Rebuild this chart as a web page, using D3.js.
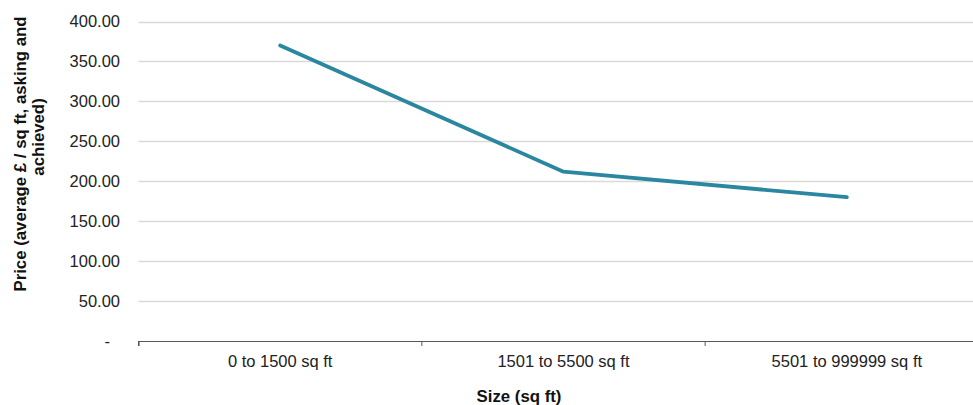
<!DOCTYPE html>
<html><head><meta charset="utf-8">
<script src="https://cdn.jsdelivr.net/npm/d3@7"></script>
<style>
html,body{margin:0;padding:0;background:#fff;}
svg{display:block;font-family:"Liberation Sans",Arial,sans-serif;}
</style></head>
<body>
<svg id="c" width="973" height="405"></svg>
<script>
const categories = ["0 to 1500 sq ft", "1501 to 5500 sq ft", "5501 to 999999 sq ft"];
const values = [370, 212, 180];
const yTicks = [0, 50, 100, 150, 200, 250, 300, 350, 400];
const yTitle = ["Price (average £ / sq ft, asking and", "achieved)"];
const xTitle = "Size (sq ft)";

(function () {
const svg = d3.select("#c");
const mLeft = 138.5, mRight = 988.5, mTop = 21.5, mBottom = 341;

const x = d3.scaleBand().domain(categories).range([mLeft, mRight]).padding(0);
const y = d3.scaleLinear().domain([0, 400]).range([mBottom, mTop]);

// gridlines
svg.append("g").selectAll("line").data(yTicks.filter(d => d > 0)).join("line")
  .attr("x1", mLeft).attr("x2", 973)
  .attr("y1", d => Math.round(y(d)) + 0.5).attr("y2", d => Math.round(y(d)) + 0.5)
  .attr("stroke", "#d9d9d9").attr("stroke-width", 1.3);

// y tick labels
svg.append("g").selectAll("text").data(yTicks).join("text")
  .attr("x", d => d === 0 ? 110 : 120).attr("y", d => y(d) + 5.8)
  .attr("text-anchor", "end").attr("font-size", 16.5).attr("fill", "#222")
  .text(d => d === 0 ? "-" : d3.format(".2f")(d));

// x axis
const xAxis = d3.axisBottom(x).tickSize(5).tickSizeOuter(5).tickFormat("");
const gx = svg.append("g").attr("transform", `translate(0,${mBottom})`).call(xAxis);
gx.select(".domain").attr("stroke", "#595959").attr("stroke-width", 1.2);
gx.selectAll(".tick").remove();
const bounds = categories.map(c => x(c)).concat([x(categories[categories.length-1]) + x.bandwidth()]);
gx.selectAll("line.b").data(bounds).join("line").attr("class", "b")
  .attr("x1", d => d).attr("x2", d => d).attr("y1", 0).attr("y2", 5)
  .attr("stroke", "#595959").attr("stroke-width", 1);

// x tick labels
svg.append("g").selectAll("text").data(categories).join("text")
  .attr("x", d => x(d) + x.bandwidth() / 2).attr("y", 367)
  .attr("text-anchor", "middle").attr("font-size", 16.5).attr("fill", "#222")
  .text(d => d);

// line
const line = d3.line().x((d, i) => x(categories[i]) + x.bandwidth() / 2).y(d => y(d));
svg.append("path").datum(values).attr("d", line)
  .attr("fill", "none").attr("stroke", "#2b87a0").attr("stroke-width", 3.75)
  .attr("stroke-linejoin", "round").attr("stroke-linecap", "round");

// axis titles
svg.append("text").attr("x", 519).attr("y", 401.5).attr("text-anchor", "middle")
  .attr("font-size", 16.8).attr("font-weight", "bold").attr("fill", "#111").text(xTitle);

const yt = svg.append("g");
yt.append("text").attr("transform", "translate(26,154) rotate(-90)").attr("text-anchor", "middle")
  .attr("font-size", 16.8).attr("font-weight", "bold").attr("fill", "#111").text(yTitle[0]);
yt.append("text").attr("transform", "translate(44,137) rotate(-90)").attr("text-anchor", "middle")
  .attr("font-size", 16.8).attr("font-weight", "bold").attr("fill", "#111").text(yTitle[1]);
})();
</script>
</body></html>
